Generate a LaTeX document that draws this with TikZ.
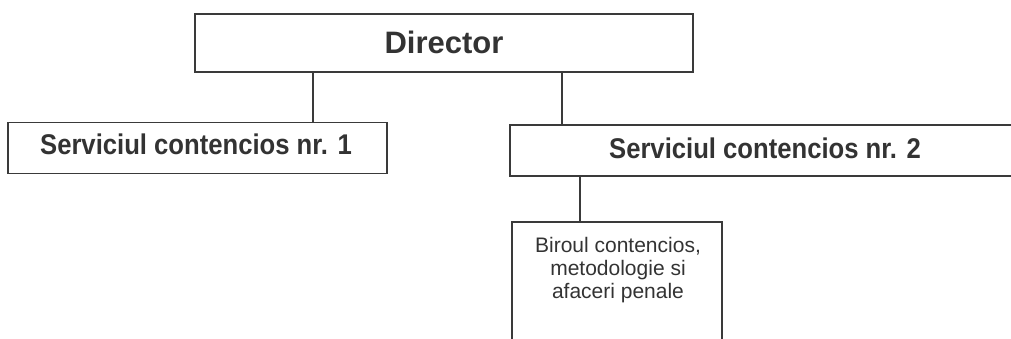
\documentclass[tikz,border=0pt]{standalone}
\usepackage{fontspec}
\setmainfont{Liberation Sans}
\newfontfamily\narrowbold[FakeStretch=0.9]{Liberation Sans Bold}
\definecolor{ink}{HTML}{3A3A3A}
\definecolor{txt}{HTML}{333333}
\begin{document}
\begin{tikzpicture}[x=1pt,y=-1pt,
  box/.style={draw=ink,line width=1.5pt,rectangle,inner sep=0pt,outer sep=0pt,anchor=north west},
  link/.style={draw=ink,line width=1.3pt},
  lbl/.style={text=txt,inner sep=0pt,anchor=base}]
\useasboundingbox (0,0) rectangle (1011,338);
\clip (0,0) rectangle (1011,338);
% boxes
\node[box,minimum width=498pt,minimum height=58pt] (dir) at (195,14) {};
\node[box,minimum width=379pt,minimum height=51pt] (s1) at (8,122.5) {};
\node[box,minimum width=540pt,minimum height=51pt] (s2) at (510,125) {};
\node[box,minimum width=210pt,minimum height=160pt] (b1) at (512,222) {};
% texts
\node[lbl,font=\fontsize{31}{36}\selectfont\bfseries] (tdir) at (444,53) {Director};
\node[lbl,font=\fontsize{28.5}{32}\narrowbold] (ts1) at (196,154) {Serviciul contencios nr. 1};
\node[lbl,font=\fontsize{28.5}{32}\narrowbold] (ts2) at (765,158) {Serviciul contencios nr. 2};
\node[text=txt,inner sep=0pt,anchor=north,align=center,font=\fontsize{21}{23}\selectfont] (tb1) at (618,237) {Biroul contencios,\\metodologie si\\afaceri penale};
% connectors
\coordinate (c1) at (313,0);
\coordinate (c2) at (562,0);
\coordinate (c3) at (580,0);
\draw[link] (dir.south -| c1) -- (s1.north -| c1);
\draw[link] (dir.south -| c2) -- (s2.north -| c2);
\draw[link] (s2.south -| c3) -- (b1.north -| c3);
\end{tikzpicture}
\end{document}
